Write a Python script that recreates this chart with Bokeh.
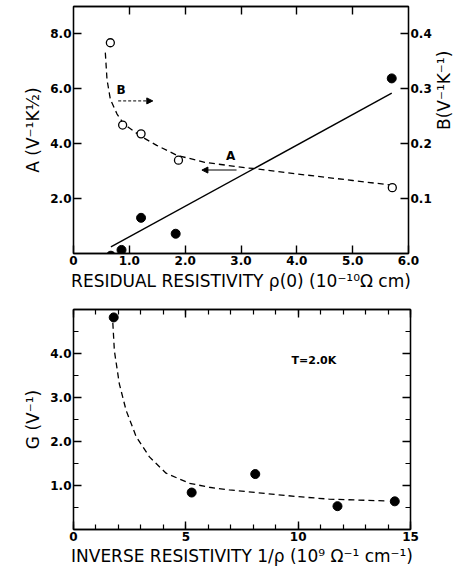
import math
from bokeh.plotting import figure
from bokeh.models import (Range1d, LinearAxis, FixedTicker, Label, Arrow, NormalHead, Column)
from bokeh.embed import file_html
from bokeh.resources import INLINE

# ---------------- data: top panel ----------------
rho_A = [0.67, 0.86, 1.21, 1.83, 5.70]          # residual resistivity (1e-10 ohm cm)
A_vals = [-0.08, 0.13, 1.30, 0.72, 6.38]        # A (V^-1 K^1/2), filled circles
rho_B = [0.66, 0.88, 1.21, 1.88, 5.71]
B_vals = [0.384, 0.234, 0.218, 0.170, 0.120]    # B (V^-1 K^-1), open circles
rho_fitA = [0.67, 5.70]
A_fit = [0.24, 5.84]                            # solid line
rho_fitB = [0.57, 0.60, 0.66, 0.78, 0.90, 1.20, 1.49, 1.85, 2.35, 3.10, 3.22, 4.0, 5.0, 5.66]
B_fit = [0.366, 0.317, 0.281, 0.254, 0.236, 0.214, 0.197, 0.179, 0.166, 0.156, 0.155, 0.145, 0.133, 0.125]

top_x_ticks = [0, 1, 2, 3, 4, 5, 6]
top_x_labels = ["0", "1.0", "2.0", "3.0", "4.0", "5.0", "6.0"]
top_yA_ticks = [2, 4, 6, 8]
top_yA_labels = ["2.0", "4.0", "6.0", "8.0"]
top_yB_ticks = [0.1, 0.2, 0.3, 0.4]
top_yB_labels = ["0.1", "0.2", "0.3", "0.4"]

# annotation positions (data units)
lab_A = (2.73, 3.30)
lab_B = (0.77, 5.69)
arrow_A = (2.92, 3.04, 2.30, 3.04)
arrow_B = (0.80, 5.56, 1.42, 5.56)

# ---------------- data: bottom panel ----------------
inv_rho = [1.79, 5.26, 8.09, 11.75, 14.3]       # 1/rho (1e9 ohm^-1 cm^-1)
G_vals = [4.82, 0.84, 1.26, 0.53, 0.64]         # G (V^-1)
inv_fit = [1.75, 1.82, 2.04, 2.34, 2.79, 3.38, 4.12, 5.16, 6.04, 6.93, 8.12, 9.9, 11.38, 13.9]
G_fit = [4.70, 4.06, 3.31, 2.71, 2.11, 1.65, 1.28, 1.05, 0.96, 0.90, 0.84, 0.75, 0.69, 0.65]

bot_x_ticks = [0, 5, 10, 15]
bot_x_minor = list(range(0, 16))
bot_y_ticks = [1, 2, 3, 4]
bot_y_labels = ["1.0", "2.0", "3.0", "4.0"]
bot_y_minor = [0.5 * i for i in range(0, 11)]
lab_T = (10.7, 3.7)

FONT = "DejaVu Sans"


def style_axis(ax, labels=None, ticks=None, minor=None, tick_in=8, minor_in=5):
    if ticks is not None:
        ax.ticker = FixedTicker(ticks=ticks, minor_ticks=minor or [])
    if labels is not None:
        ax.major_label_overrides = labels
    ax.axis_line_color = "black"
    ax.axis_line_width = 1.3
    ax.major_tick_in = tick_in
    ax.major_tick_out = 0
    ax.minor_tick_in = minor_in
    ax.minor_tick_out = 0
    ax.major_tick_line_width = 1.4
    ax.minor_tick_line_width = 1.2
    ax.major_tick_line_color = "black"
    ax.minor_tick_line_color = "black"
    ax.major_label_text_font = FONT
    ax.major_label_text_font_style = "bold"
    ax.major_label_text_font_size = "12px"
    ax.major_label_text_color = "black"
    ax.major_label_standoff = 2
    ax.axis_label_text_font = FONT
    ax.axis_label_text_font_style = "normal"
    ax.axis_label_text_font_size = "17px"
    ax.axis_label_text_color = "black"
    ax.axis_label_standoff = 4


# ================= top figure =================
p1 = figure(frame_width=335, frame_height=247, x_range=Range1d(0, 6), y_range=Range1d(0, 9),
            output_backend="svg", toolbar_location=None,
            min_border_left=72, min_border_right=50, min_border_top=6, min_border_bottom=44)
p1.extra_y_ranges = {"B": Range1d(0, 0.45)}
p1.grid.visible = False
p1.outline_line_color = "black"
p1.outline_line_width = 1.3
p1.background_fill_color = "white"
p1.border_fill_color = "white"

style_axis(p1.xaxis[0], dict(zip(top_x_ticks, top_x_labels)), top_x_ticks)
p1.xaxis[0].axis_label = "RESIDUAL RESISTIVITY \u03c1(0) (10\u207b\u00b9\u2070\u03a9 cm)"
p1.xaxis[0].axis_label_standoff = 3
style_axis(p1.yaxis[0], dict(zip(top_yA_ticks, top_yA_labels)), top_yA_ticks)
p1.yaxis[0].axis_label = "A (V\u207b\u00b9K\u00bd)"

ax_top1 = LinearAxis()
style_axis(ax_top1, {t: "" for t in top_x_ticks[1:-1]}, top_x_ticks[1:-1])
p1.add_layout(ax_top1, "above")

ax_right1 = LinearAxis(y_range_name="B", axis_label="B(V\u207b\u00b9K\u207b\u00b9)")
style_axis(ax_right1, dict(zip(top_yB_ticks, top_yB_labels)), top_yB_ticks)
ax_right1.axis_label_orientation = math.pi / 2
ax_right1.axis_label_standoff = 9
p1.add_layout(ax_right1, "right")

p1.line(rho_fitA, A_fit, line_color="black", line_width=1.4)
p1.line(rho_fitB, B_fit, y_range_name="B", line_color="black", line_width=1.3, line_dash="6 4")
p1.scatter(rho_A, A_vals, size=9, fill_color="black", line_color="black")
p1.scatter(rho_B, B_vals, y_range_name="B", size=8, fill_color="white",
           line_color="black", line_width=1.3)

p1.add_layout(Label(x=lab_A[0], y=lab_A[1], text="A", text_font=FONT, text_font_style="bold",
                    text_font_size="12px", text_color="black"))
p1.add_layout(Label(x=lab_B[0], y=lab_B[1], text="B", text_font=FONT, text_font_style="bold",
                    text_font_size="12px", text_color="black"))
p1.add_layout(Arrow(x_start=arrow_A[0], y_start=arrow_A[1], x_end=arrow_A[2], y_end=arrow_A[3],
                    line_width=1.1, end=NormalHead(size=6, fill_color="black", line_color="black")))
p1.add_layout(Arrow(x_start=arrow_B[0], y_start=arrow_B[1], x_end=arrow_B[2], y_end=arrow_B[3],
                    line_width=1.0, line_dash="3 2",
                    end=NormalHead(size=6, fill_color="black", line_color="black")))

# ================= bottom figure =================
p2 = figure(frame_width=337, frame_height=220, x_range=Range1d(0, 15), y_range=Range1d(0, 5),
            output_backend="svg", toolbar_location=None,
            min_border_left=73, min_border_right=44, min_border_top=12, min_border_bottom=36)
p2.grid.visible = False
p2.outline_line_color = "black"
p2.outline_line_width = 1.3

style_axis(p2.xaxis[0], {t: str(t) for t in bot_x_ticks}, bot_x_ticks, bot_x_minor)
p2.xaxis[0].axis_label = "INVERSE RESISTIVITY 1/\u03c1 (10\u2079 \u03a9\u207b\u00b9 cm\u207b\u00b9)"
p2.xaxis[0].axis_label_standoff = 2
style_axis(p2.yaxis[0], dict(zip(bot_y_ticks, bot_y_labels)), bot_y_ticks, bot_y_minor)
p2.yaxis[0].axis_label = "G (V\u207b\u00b9)"

ax_top2 = LinearAxis()
style_axis(ax_top2, {t: "" for t in bot_x_ticks}, bot_x_ticks, bot_x_minor)
p2.add_layout(ax_top2, "above")
ax_right2 = LinearAxis()
style_axis(ax_right2, {t: "" for t in bot_y_ticks}, bot_y_ticks, bot_y_minor)
p2.add_layout(ax_right2, "right")

p2.line(inv_fit, G_fit, line_color="black", line_width=1.3, line_dash="6 4")
p2.scatter(inv_rho, G_vals, size=9, fill_color="black", line_color="black")
p2.add_layout(Label(x=lab_T[0], y=lab_T[1], text="T=2.0K", text_font=FONT, text_font_style="bold",
                    text_font_size="11px", text_color="black", text_align="center"))

layout = Column(p1, p2, spacing=0)
open("out.html", "w").write(file_html(layout, INLINE))
